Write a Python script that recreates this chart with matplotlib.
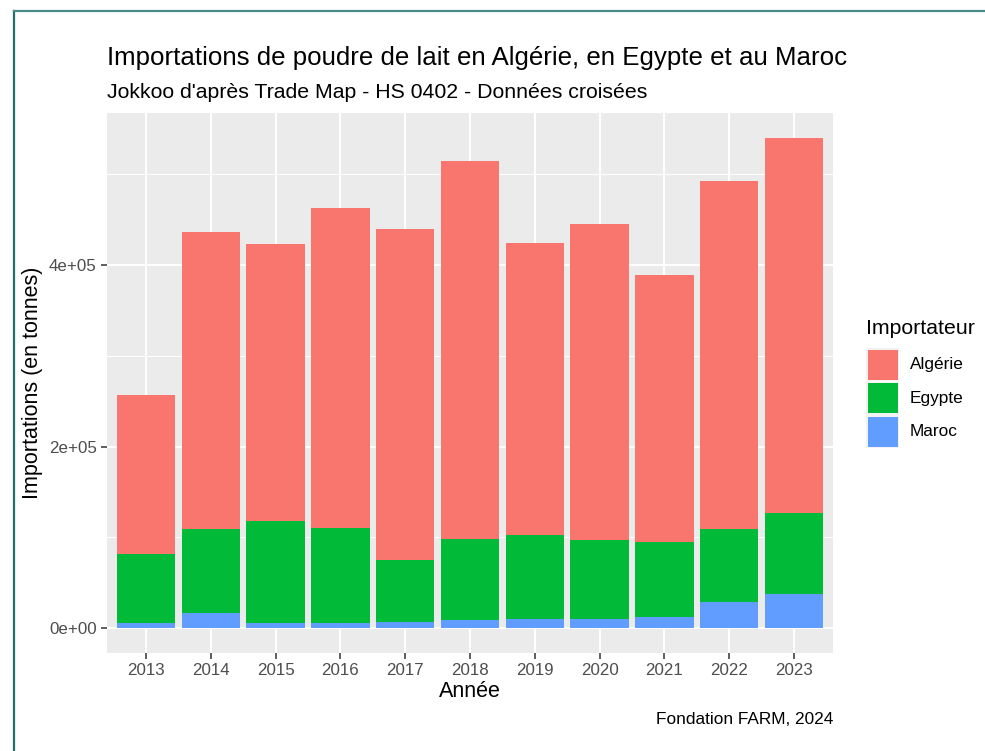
import matplotlib
matplotlib.use("Agg")
import matplotlib.pyplot as plt
from matplotlib.patches import Rectangle
from matplotlib.lines import Line2D
import numpy as np

plt.rcParams['font.family'] = ['Liberation Sans', 'DejaVu Sans']

years = ["2013", "2014", "2015", "2016", "2017", "2018", "2019", "2020", "2021", "2022", "2023"]
maroc = [5700, 16700, 5300, 5300, 6800, 9300, 10100, 9700, 12600, 28800, 37600]
egypte = [76300, 92100, 112700, 105400, 67900, 88800, 92100, 87000, 82700, 80300, 88800]
algerie = [175000, 328000, 305000, 352000, 365000, 416000, 322000, 349000, 294000, 383000, 414000]
series_names = ["Algérie", "Egypte", "Maroc"]
colors = {"Algérie": "#F8766D", "Egypte": "#00BA38", "Maroc": "#619CFF"}
ytick_vals = [0, 200000, 400000]
ytick_labels = ["0e+00", "2e+05", "4e+05"]

W, H = 985, 751
fig = plt.figure(figsize=(W / 100, H / 100), dpi=100)
fig.patch.set_facecolor("white")

# teal frame
fig.add_artist(Line2D([14 / W, 14 / W], [0, 1 - 11 / H], transform=fig.transFigure, color="#1f6f6b", lw=1.6))
fig.add_artist(Line2D([14 / W, 1], [1 - 11 / H, 1 - 11 / H], transform=fig.transFigure, color="#4a8a86", lw=1.6))

left, right, top, bottom = 107, 833, 113, 652.7
ax = fig.add_axes([left / W, 1 - bottom / H, (right - left) / W, (bottom - top) / H])
ax.set_facecolor("#EBEBEB")

x = np.arange(1, len(years) + 1)
m = np.array(maroc)
e = np.array(egypte)
a = np.array(algerie)
ax.bar(x, m, width=0.9, color=colors["Maroc"], zorder=3)
ax.bar(x, e, width=0.9, bottom=m, color=colors["Egypte"], zorder=3)
ax.bar(x, a, width=0.9, bottom=m + e, color=colors["Algérie"], zorder=3)

tot = (m + e + a).max()
ax.set_xlim(0.4, len(years) + 0.6)
ax.set_ylim(-0.05 * tot, tot * 1.05)

ax.set_xticks(x)
ax.set_xticklabels(years)
ax.set_yticks(ytick_vals)
ax.set_yticklabels(ytick_labels)
ax.set_yticks([100000, 300000, 500000], minor=True)

ax.grid(which="major", color="white", lw=1.4, zorder=0)
ax.grid(which="minor", axis="y", color="white", lw=0.7, zorder=0)
ax.set_axisbelow(True)
for s in ax.spines.values():
    s.set_visible(False)
ax.tick_params(which="major", length=4.5, width=1.1, color="#333333", labelcolor="#4D4D4D", labelsize=12.2, pad=3)
ax.tick_params(which="minor", length=0)

ax.set_xlabel("Année", fontsize=15.5, color="black", labelpad=2)
ax.set_ylabel("Importations (en tonnes)", fontsize=15.5, color="black", labelpad=4)

fig.text(left / W, 1 - 58 / H, "Importations de poudre de lait en Algérie, en Egypte et au Maroc",
         fontsize=18.6, va="center", ha="left")
fig.text(left / W, 1 - 92 / H, "Jokkoo d'après Trade Map - HS 0402 - Données croisées",
         fontsize=15.3, va="center", ha="left")
fig.text(right / W, 1 - 720 / H, "Fondation FARM, 2024", fontsize=12.4, va="center", ha="right")

# legend
fig.text(866 / W, 1 - 328 / H, "Importateur", fontsize=15.3, va="center", ha="left")
key_top = 348
for i, name in enumerate(series_names):
    y0 = key_top + i * 33.5
    fig.add_artist(Rectangle((866 / W, 1 - (y0 + 33) / H), 33 / W, 33 / H, transform=fig.transFigure,
                             facecolor="#F2F2F2", edgecolor="none"))
    fig.add_artist(Rectangle((867.5 / W, 1 - (y0 + 31.5) / H), 30 / W, 30 / H, transform=fig.transFigure,
                             facecolor=colors[name], edgecolor="none"))
    fig.text(910 / W, 1 - (y0 + 17) / H, name, fontsize=12.4, va="center", ha="left")

fig.savefig("out.png", dpi=100)
